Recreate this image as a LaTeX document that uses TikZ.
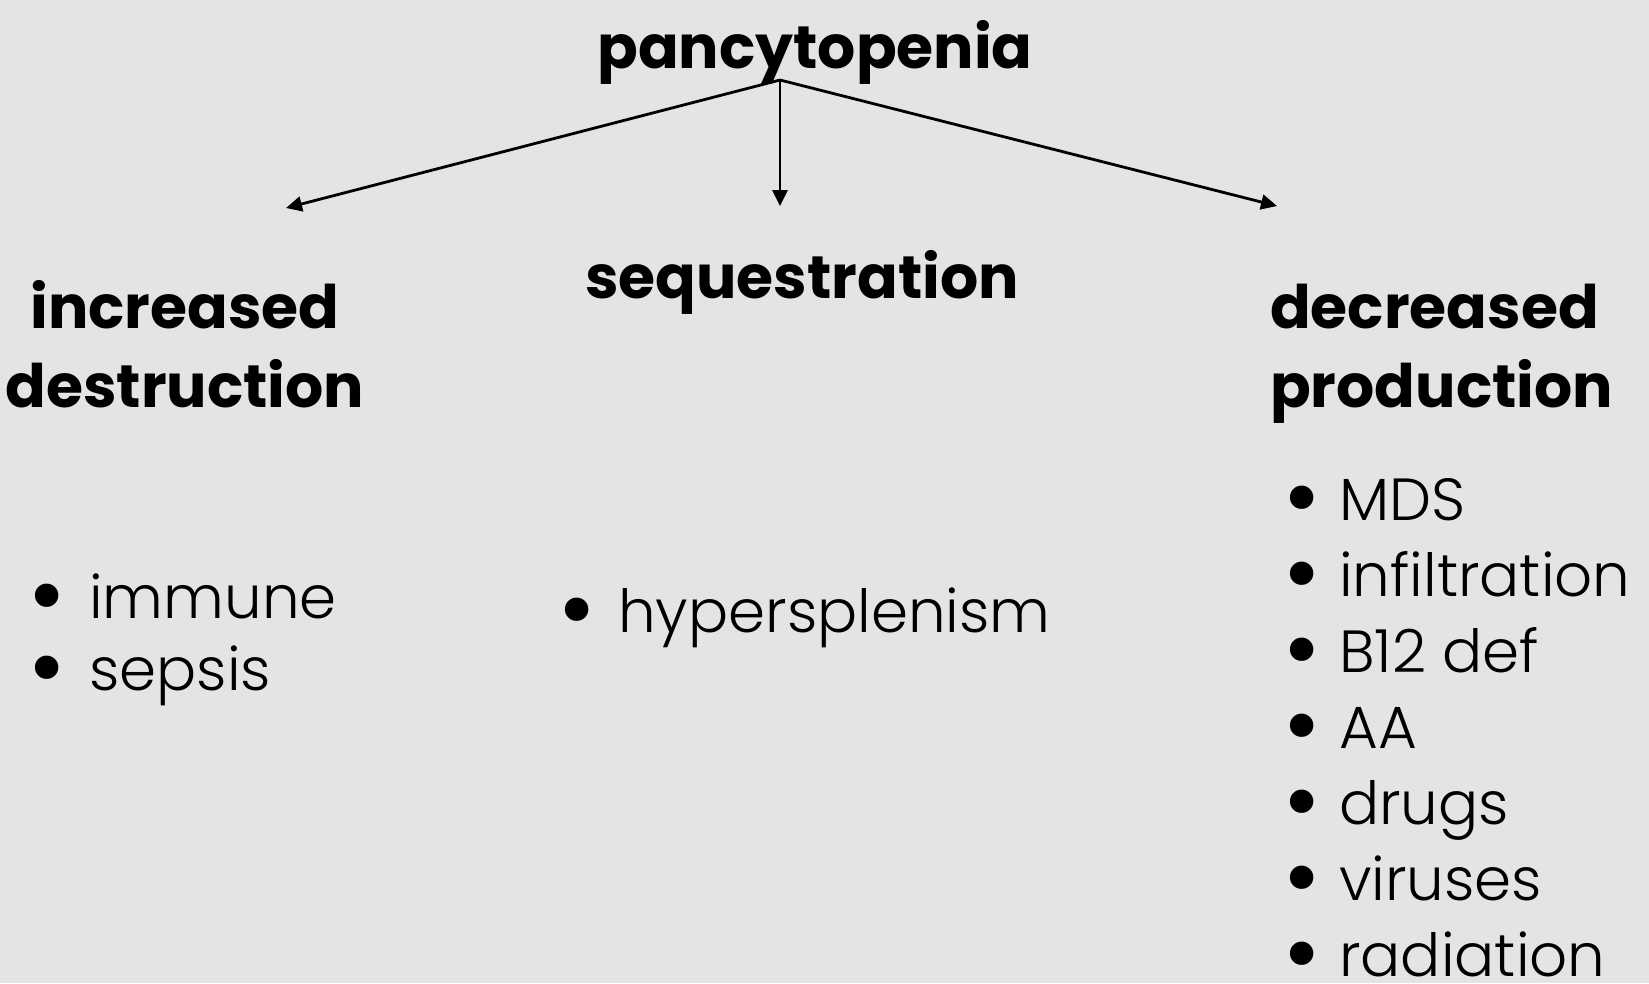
\documentclass[tikz,border=0pt]{standalone}
\usepackage{fontspec}
\setmainfont{Poppins}
\IfFontExistsTF{Poppins Light}{\newfontfamily\itemfont{Poppins Light}}{\newfontfamily\itemfont{Poppins}}
\usetikzlibrary{arrows.meta}
\definecolor{bg}{HTML}{E4E4E4}
\tikzset{
  x=1bp,y=-1bp,
  head/.style={inner sep=0pt,font=\bfseries\fontsize{60bp}{77bp}\selectfont,anchor=base},
  item/.style={inner sep=0pt,font=\itemfont\fontsize{59.5bp}{76bp}\selectfont,anchor=base west},
  dot/.style={inner sep=0pt,font=\fontsize{59.5bp}{76bp}\selectfont,anchor=base},
  link/.style={line width=2.8bp,-{Triangle[length=16bp,width=15bp]}}
}
\newcommand{\bul}{\makebox[0pt]{\smash{\raisebox{-9bp}{\scalebox{1.6}{•}}}}}
\begin{document}
\begin{tikzpicture}
\fill[bg] (0,0) rectangle (1649,983);
\useasboundingbox (0,0) rectangle (1649,983);
\node[head] (pan) at (815,68) {pancytopenia};
\node[head] (seq) at (802,298) {sequestration};
\node[head] (inc1) at (185,328) {increased};
\node[head] (inc2) at (185,407) {destruction};
\node[head,anchor=base west] (dec1) at (1270,328) {decreased};
\node[head,anchor=base west] (dec2) at (1270,407) {production};
\coordinate (root) at (780,80);
\coordinate (tl) at (286,208);
\coordinate (tm) at (780,206);
\coordinate (tr) at (1277,206);
\draw[link] (root) -- (tl);
\draw[link] (root) -- (tm);
\draw[link] (root) -- (tr);
% left list
\foreach \t/\y [count=\i] in {immune/618,sepsis/690}{
  \node[dot] (lb\i) at (47,\y) {\bul};
  \node[item] (li\i) at (89,\y) {\t};
}
% middle
\node[dot] (mb1) at (577,632) {\bul};
\node[item] (mi1) at (618,632) {hypersplenism};
% right list
\foreach \t/\y [count=\i] in {MDS/520,infiltration/596,B12 def/672,AA/748,drugs/824,viruses/900,radiation/976}{
  \node[dot] (rb\i) at (1302,\y) {\bul};
  \node[item] (ri\i) at (1339,\y) {\t};
}
\end{tikzpicture}
\end{document}
